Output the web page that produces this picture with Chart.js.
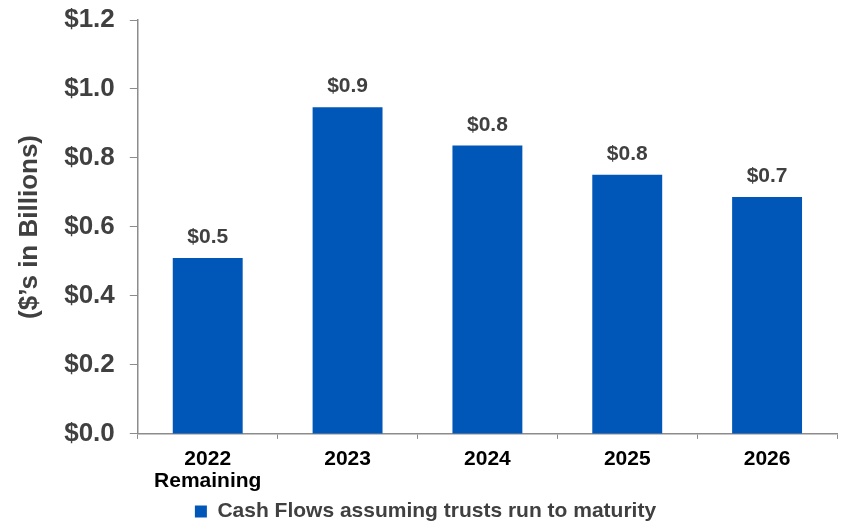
<!DOCTYPE html>
<html>
<head>
<meta charset="utf-8">
<script src="https://cdn.jsdelivr.net/npm/chart.js@4/dist/chart.umd.min.js"></script>
<style>
  html, body { margin: 0; padding: 0; background: #fff; }
  #wrap { width: 841px; height: 522px; position: relative; }
</style>
</head>
<body>
<div id="wrap"><canvas id="cashChart"></canvas></div>
<script>
// Dữ liệu (tỷ USD)
const categories = [['2022', 'Remaining'], '2023', '2024', '2025', '2026'];
const cashFlows = [0.51, 0.947, 0.836, 0.751, 0.687];
const valueLabels = ['$0.5', '$0.9', '$0.8', '$0.8', '$0.7'];
const seriesName = 'Cash Flows assuming trusts run to maturity';

const GREY = '#404040';
const AXIS = '#8c8c8c';
const FONT = "'Liberation Sans', Arial, sans-serif";

// Vẽ nhãn giá trị phía trên mỗi cột
const barLabels = {
    id: 'barLabels',
    afterDatasetsDraw(chart) {
        const ctx = chart.ctx;
        const meta = chart.getDatasetMeta(0);
        ctx.save();
        ctx.font = 'bold 21px ' + FONT;
        ctx.fillStyle = GREY;
        ctx.textAlign = 'center';
        ctx.textBaseline = 'alphabetic';
        meta.data.forEach(function(bar, i) {
            ctx.fillText(valueLabels[i], bar.x, bar.y - 15);
        });
        ctx.restore();
    }
};

new Chart(document.getElementById('cashChart'), {
    type: 'bar',
    data: {
        labels: categories,
        datasets: [{
            label: seriesName,
            data: cashFlows,
            backgroundColor: '#0057B8',
            categoryPercentage: 0.5,
            barPercentage: 1.0
        }]
    },
    options: {
        responsive: true,
        maintainAspectRatio: false,
        animation: false,
        layout: { padding: { top: 0, right: 4, left: 14, bottom: -10 } },
        plugins: {
            tooltip: { enabled: false },
            legend: {
                position: 'bottom',
                labels: {
                    boxWidth: 12,
                    boxHeight: 12,
                    padding: 0,
                    color: GREY,
                    font: { family: FONT, size: 21, weight: 'bold' }
                }
            }
        },
        scales: {
            x: {
                grid: {
                    drawOnChartArea: false,
                    drawTicks: true,
                    tickLength: 5,
                    color: AXIS,
                    offset: true
                },
                border: { color: AXIS, width: 1.5 },
                ticks: {
                    color: '#000',
                    padding: 9,
                    maxRotation: 0,
                    font: { family: FONT, size: 21, weight: 'bold', lineHeight: 1.05 }
                }
            },
            y: {
                min: 0,
                max: 1.2,
                // nhãn $1.2 nằm sát mép trên như ảnh
                afterFit: function(axis) {
                    axis.paddingTop = 20;
                },
                grid: {
                    drawOnChartArea: false,
                    drawTicks: true,
                    tickLength: 8,
                    color: AXIS
                },
                border: { color: AXIS, width: 1.5 },
                ticks: {
                    stepSize: 0.2,
                    color: GREY,
                    padding: 15,
                    font: { family: FONT, size: 26, weight: 'bold' },
                    callback: function(value) {
                        return '$' + value.toFixed(1);
                    }
                },
                title: {
                    display: true,
                    text: "($\u2019s in Billions)",
                    color: GREY,
                    padding: { top: 0, bottom: 4 },
                    font: { family: FONT, size: 26, weight: 'bold' }
                }
            }
        }
    },
    plugins: [barLabels]
});
</script>
</body>
</html>
